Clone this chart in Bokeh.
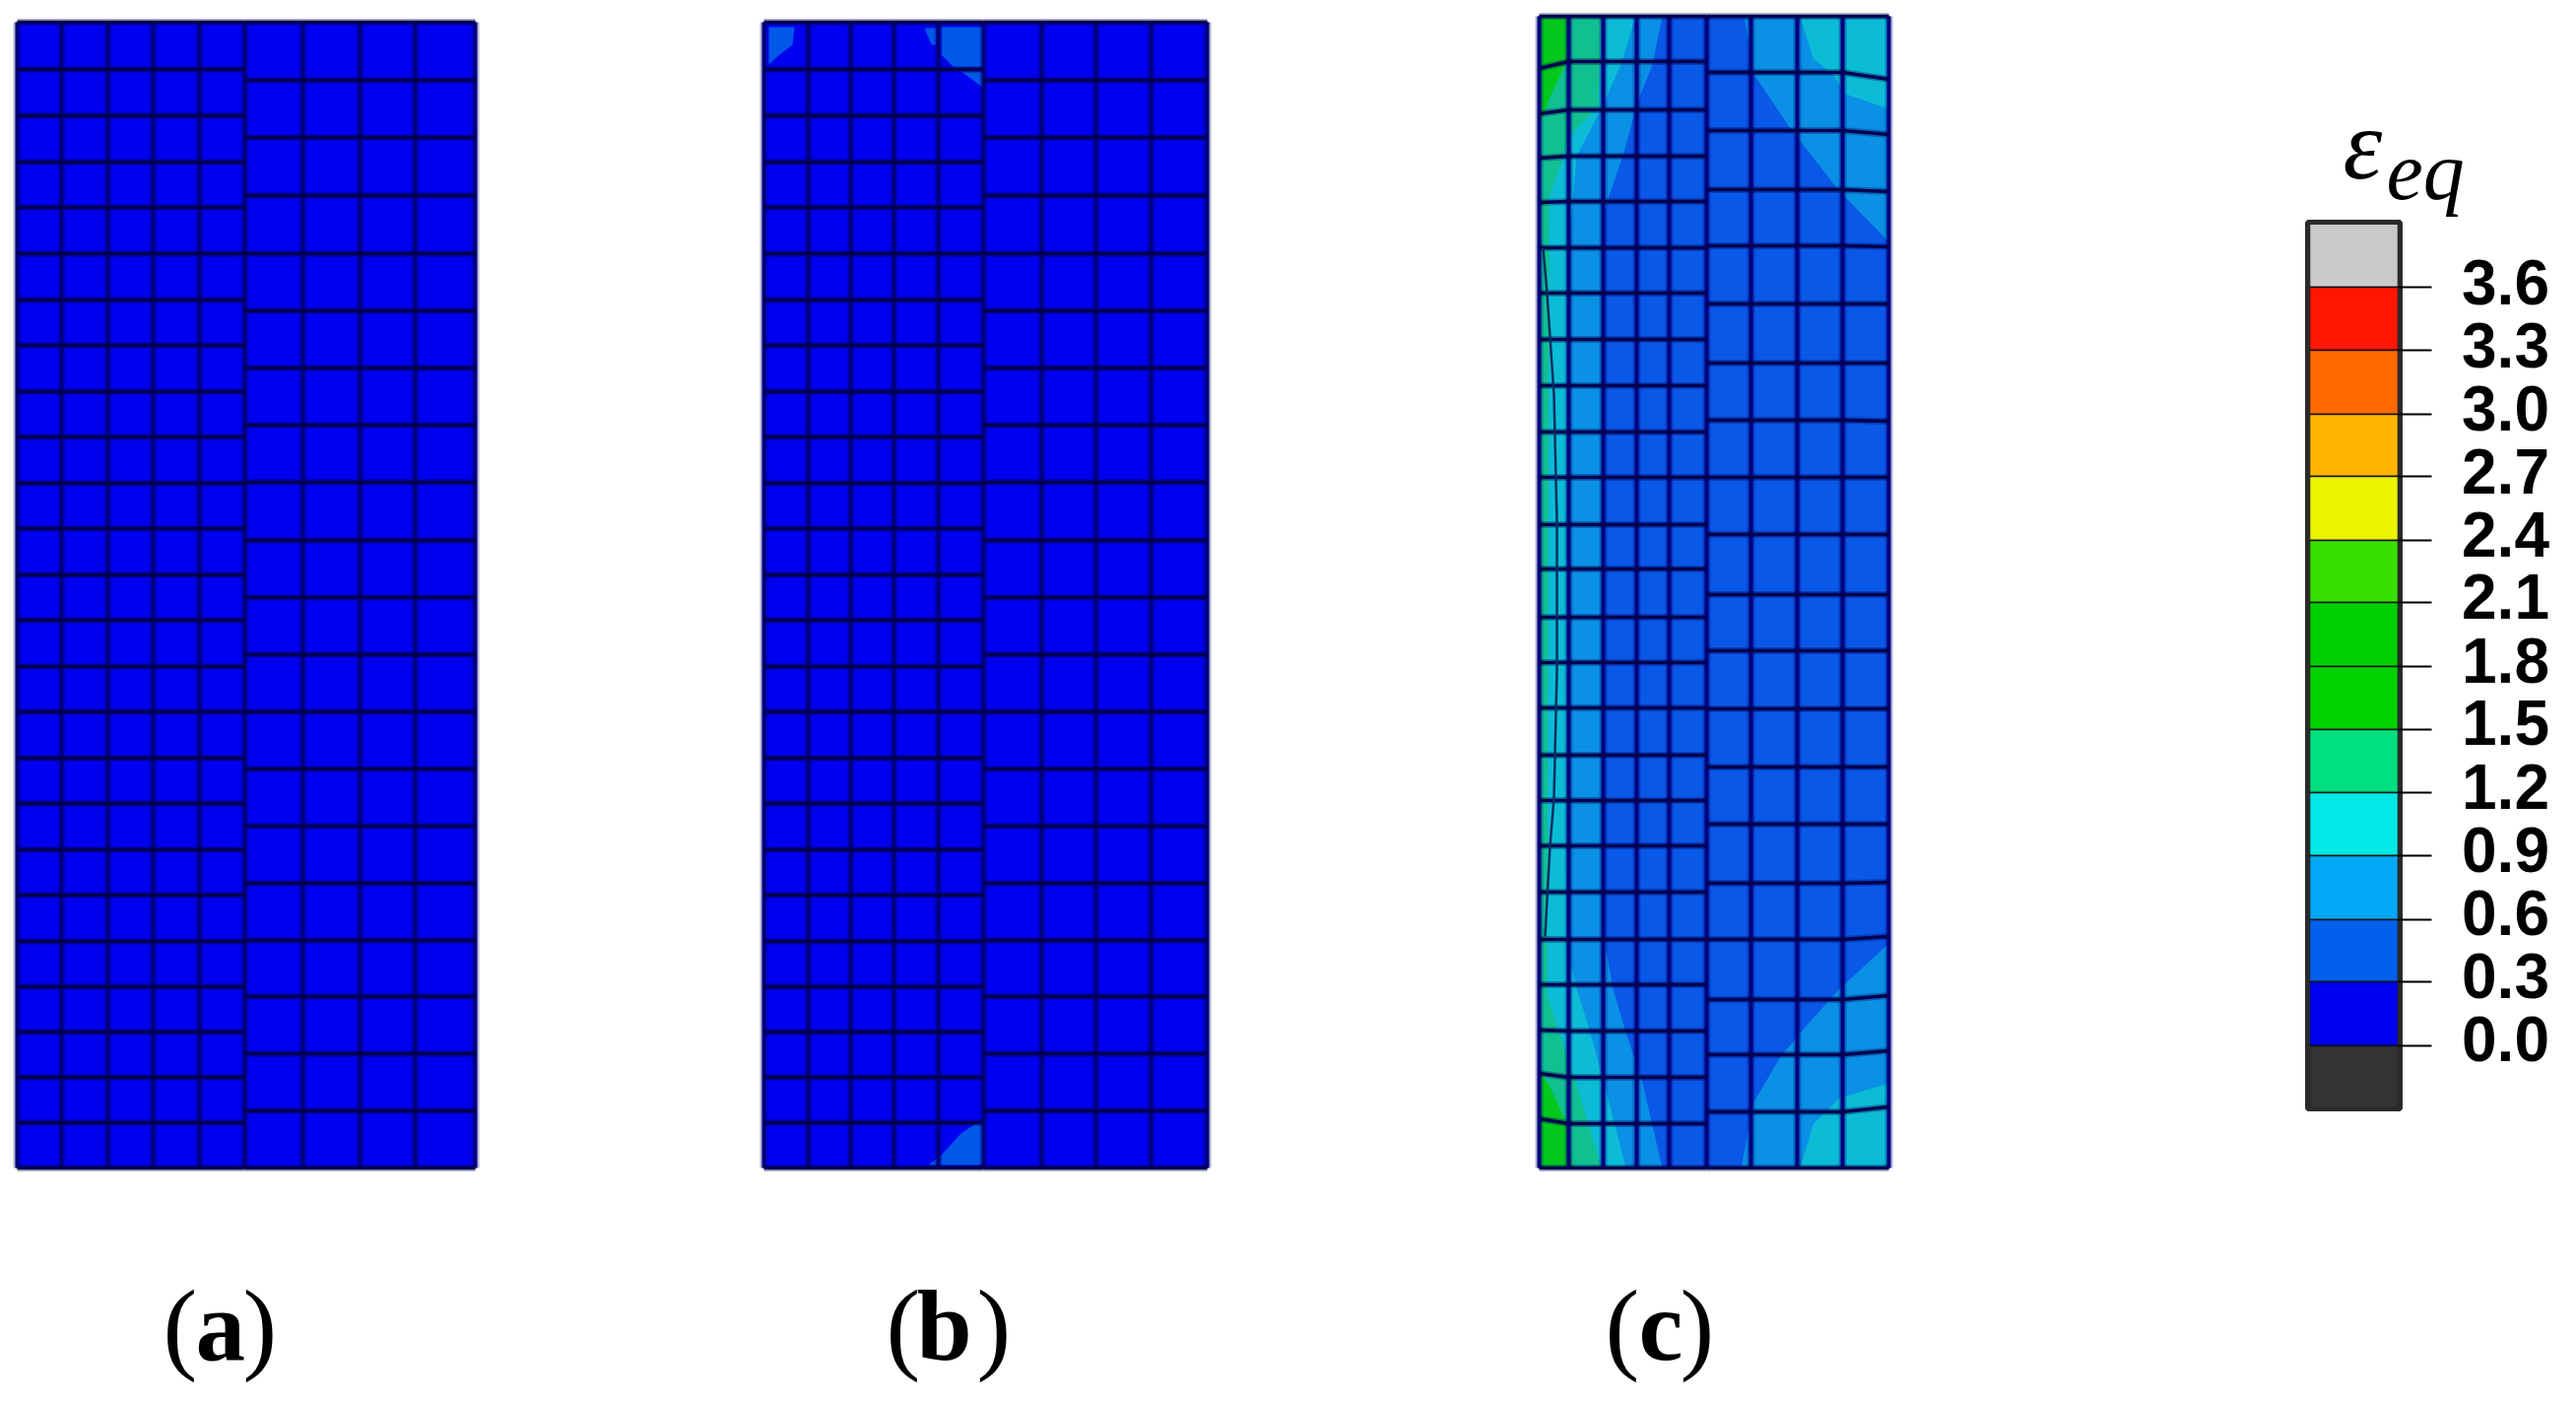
from bokeh.plotting import figure
from bokeh.models import Range1d
from bokeh.core.properties import value
from bokeh.embed import file_html
from bokeh.resources import INLINE

# ---------- colour scale ----------
scale_labels = ["3.6", "3.3", "3.0", "2.7", "2.4", "2.1", "1.8", "1.5", "1.2", "0.9", "0.6", "0.3", "0.0"]
scale_edges = [225, 291, 355, 420, 483, 548, 611, 676, 740, 804, 868, 933, 996, 1061, 1125]
scale_colors = ["#c9c9c9", "#ff1500", "#ff6a00", "#ffb400", "#ecf200", "#38e000", "#00d000",
                "#00d200", "#00e080", "#00e8e8", "#00a8f5", "#0060ec", "#0000f0", "#333333"]
label_y = [286, 350, 414, 478, 542, 605, 670, 733, 798, 862, 926, 990, 1054]

# ---------- undeformed meshes (a) and (b) ----------
rows_left = [22, 70, 117, 164, 210, 257, 304, 350, 397, 443, 490, 536, 583, 629, 676, 722, 769, 815,
             862, 908, 955, 1001, 1047, 1093, 1139, 1185]
rows_right = [22, 81, 139, 198, 257, 315, 373, 431, 489, 548, 606, 664, 722, 780, 838, 896, 954,
              1011, 1069, 1127, 1185]
a_cols_left = [17, 62, 109, 155, 202, 248]
a_cols_right = [248, 307, 365, 421, 482]
b_cols_left = [775, 820, 863, 907, 952, 998]
b_cols_right = [998, 1057, 1112, 1168, 1225]

# ---------- deformed mesh (c) ----------
c_cols_left = [1562, 1592, 1627, 1661, 1694, 1732]
c_cols_right = [1732, 1777, 1824, 1870, 1917]
c_rows_left_mid = [16, 62, 111, 158, 204, 251, 297, 344, 391, 438, 484, 532, 577, 626, 672, 718, 766,
                   812, 858, 905, 953, 999, 1046, 1093, 1140, 1185]
c_rows_left_edge = [16, 69, 115, 160, 205, 251, 297, 344, 391, 438, 484, 532, 577, 626, 672, 718, 766,
                    812, 858, 905, 953, 999, 1045, 1089, 1135, 1185]
c_rows_right_mid = [16, 73, 132, 192, 249, 308, 368, 426, 484, 542, 603, 660, 719, 778, 836, 896, 953,
                    1014, 1070, 1128, 1185]
c_rows_right_edge = [16, 80, 136, 194, 250, 308, 368, 427, 484, 542, 603, 660, 719, 778, 836, 895, 950,
                     1010, 1066, 1123, 1185]
c_inner_x = [1566, 1570, 1577, 1580, 1580, 1577, 1573, 1568]
c_inner_y = [251, 297, 400, 530, 680, 810, 858, 950]

# ---------- contour regions, panel (b) ----------
b_patch_x = [[780, 806, 804, 791, 780],
             [955, 997, 997, 968, 955],
             [938, 950, 950, 945],
             [975, 997, 997],
             [942, 955, 975, 990, 998, 998]]
b_patch_y = [[27, 27, 45, 55, 65],
             [27, 27, 68, 68, 55],
             [28, 28, 45, 45],
             [72, 72, 88],
             [1182, 1172, 1150, 1140, 1140, 1182]]

# ---------- contour regions, panel (c) ----------
c_band_06_x = [1562, 1687, 1677, 1662, 1647, 1633, 1628, 1627, 1630, 1637, 1648, 1667, 1687, 1562]
c_band_06_y = [16, 16, 65, 103, 158, 198, 217, 926, 965, 1003, 1041, 1099, 1185, 1185]
c_band_09_x = [1562, 1660, 1645, 1625, 1600, 1592, 1590, 1600, 1612, 1628, 1650, 1562]
c_band_09_y = [16, 16, 65, 110, 158, 250, 960, 1003, 1041, 1099, 1185, 1185]
c_band_12_x = [1562, 1625, 1622, 1595, 1572, 1570, 1580, 1600, 1625, 1562]
c_band_12_y = [16, 16, 108, 135, 200, 1010, 1040, 1100, 1185, 1185]
c_band_15_x = [1562, 1595, 1590, 1572, 1562]
c_band_15_y = [16, 16, 62, 100, 130]
c_band_15b_x = [1562, 1574, 1590, 1596, 1562]
c_band_15b_y = [1085, 1105, 1140, 1185, 1185]

c_right_top_06_x = [1770, 1780, 1817, 1867, 1917, 1917]
c_right_top_06_y = [16, 75, 130, 194, 245, 16]
c_right_top_09_x = [1827, 1840, 1860, 1873, 1917, 1917]
c_right_top_09_y = [16, 59, 75, 95, 110, 16]
c_right_bot_06_x = [1917, 1867, 1833, 1807, 1780, 1767, 1917]
c_right_bot_06_y = [957, 1003, 1041, 1072, 1118, 1185, 1185]
c_right_bot_09_x = [1917, 1867, 1840, 1827, 1917]
c_right_bot_09_y = [1099, 1114, 1141, 1185, 1185]

blue_0 = "#0000f0"
blue_03 = "#0a58e8"
blue_06 = "#0a90e4"
teal_09 = "#0cbcd6"
teal_12 = "#10c090"
green_15 = "#04c81c"
mesh_h = "#000050"
mesh_v = "#00007c"

p = figure(width=2599, height=1406, x_range=Range1d(0, 2599), y_range=Range1d(1406, 0),
           output_backend="svg", toolbar_location=None, min_border=0)
p.axis.visible = False
p.grid.visible = False
p.outline_line_color = None
p.background_fill_color = "white"
p.border_fill_color = "white"


def mesh(cl, cr, yl_left, yl_edge, yr_mid, yr_edge):
    xv, yv, xh, yh = [], [], [], []
    for x in cl:
        xv.append([x, x]); yv.append([yl_left[0], yl_left[-1]])
    for x in cr[1:]:
        xv.append([x, x]); yv.append([yr_mid[0], yr_mid[-1]])
    for a, b in zip(yl_edge, yl_left):
        xh.append([cl[0], cl[1], cl[-1]])
        yh.append([a, b, b])
    for a, b in zip(yr_mid, yr_edge):
        xh.append([cr[0], cr[-2], cr[-1]])
        yh.append([a, a, b])
    p.multi_line(xv, yv, line_color=mesh_v, line_width=8, line_alpha=0.3)
    p.multi_line(xv, yv, line_color=mesh_v, line_width=4)
    p.multi_line(xh, yh, line_color=mesh_h, line_width=7, line_alpha=0.3)
    p.multi_line(xh, yh, line_color=mesh_h, line_width=3.5)


for cl, cr in [(a_cols_left, a_cols_right), (b_cols_left, b_cols_right)]:
    p.quad(left=[cl[0]], right=[cr[-1]], top=[rows_left[0]], bottom=[rows_left[-1]],
           fill_color=blue_0, line_color=None)
p.patches(b_patch_x, b_patch_y, fill_color="#0058e8", line_color=None)
mesh(a_cols_left, a_cols_right, rows_left, rows_left, rows_right, rows_right)
mesh(b_cols_left, b_cols_right, rows_left, rows_left, rows_right, rows_right)

p.quad(left=[c_cols_left[0]], right=[c_cols_right[-1]], top=[c_rows_left_mid[0]],
       bottom=[c_rows_left_mid[-1]], fill_color=blue_03, line_color=None)
p.patches([c_band_06_x, c_right_top_06_x, c_right_bot_06_x], [c_band_06_y, c_right_top_06_y, c_right_bot_06_y],
          fill_color=blue_06, line_color=None)
p.patches([c_band_09_x, c_right_top_09_x, c_right_bot_09_x], [c_band_09_y, c_right_top_09_y, c_right_bot_09_y],
          fill_color=teal_09, line_color=None)
p.patch(c_band_12_x, c_band_12_y, fill_color=teal_12, line_color=None)
p.patches([c_band_15_x, c_band_15b_x], [c_band_15_y, c_band_15b_y], fill_color=green_15, line_color=None)
mesh(c_cols_left, c_cols_right, c_rows_left_mid, c_rows_left_edge, c_rows_right_mid, c_rows_right_edge)
p.line(c_inner_x, c_inner_y, line_color="#003060", line_width=2.5)

p.quad(left=2344, right=2434, top=scale_edges[:-1], bottom=scale_edges[1:], fill_color=scale_colors,
       line_color="#111111", line_width=1.5)
p.quad(left=[2342], right=[2436], top=[scale_edges[0]], bottom=[scale_edges[-1]], fill_color=None,
       line_color="#2a2a2a", line_width=5)
p.segment(x0=2434, x1=2468, y0=scale_edges[1:-1], y1=scale_edges[1:-1], line_color="black", line_width=2)
p.text(x=[2543] * len(scale_labels), y=label_y, text=scale_labels, text_font=value("Liberation Sans"),
       text_font_style="bold", text_font_size="64px", text_align="center", text_baseline="middle",
       text_color="black")

p.text(x=[2378], y=[146], text=["ε"], text_font=value("Liberation Serif"), text_font_style="italic",
       text_font_size="101px", text_align="left", text_baseline="alphabetic", text_color="black")
p.text(x=[2422], y=[173], text=["eq"], text_font=value("Liberation Serif"), text_font_style="italic",
       text_font_size="84px", text_align="left", text_baseline="alphabetic", text_color="black")

panel_paren_open_x = [165, 899, 1629]
panel_paren_close_x = [246, 991, 1705]
panel_letter_x = [198, 930, 1663]
panel_letters = ["a", "b", "c"]
p.text(x=panel_paren_open_x, y=[1345] * 3, text=["("] * 3, text_font=value("Liberation Serif"),
       text_font_size="104px", text_align="left", text_baseline="alphabetic", text_color="black")
p.text(x=panel_paren_close_x, y=[1345] * 3, text=[")"] * 3, text_font=value("Liberation Serif"),
       text_font_size="104px", text_align="left", text_baseline="alphabetic", text_color="black")
p.text(x=panel_letter_x, y=[1345] * 3, text=panel_letters, text_font=value("Liberation Serif"),
       text_font_style="bold", text_font_size="101px", text_align="left", text_baseline="alphabetic",
       text_color="black")

open("out.html", "w").write(file_html(p, INLINE))
